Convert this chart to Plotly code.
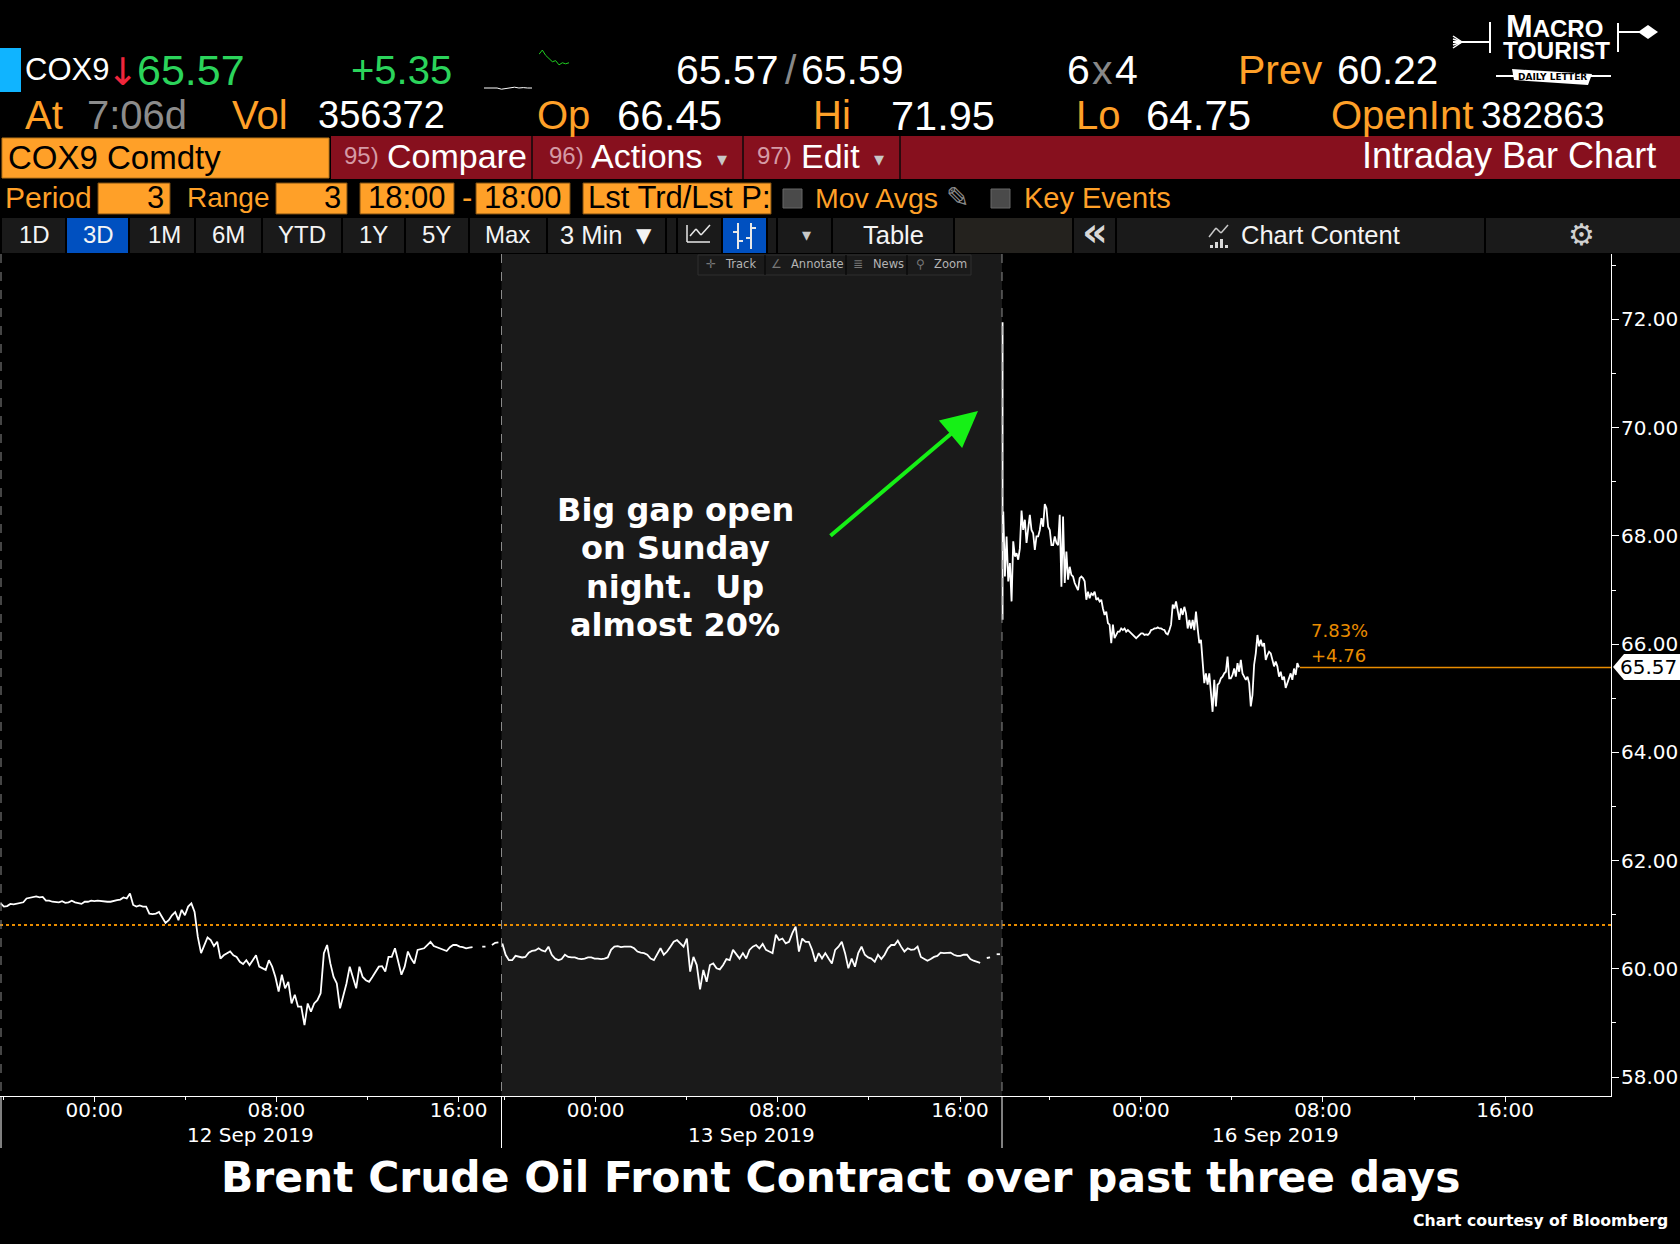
import plotly.graph_objects as go

W, H = 1680, 1244
PLOT_L, PLOT_R, PLOT_T, PLOT_B = 0, 1611, 254, 1096

# ---- data (prices) ----
day1_prices = [61.21,61.15,61.16,61.20,61.19,61.20,61.21,61.23,61.30,61.31,61.33,61.34,61.32,61.33,61.26,61.26,
 61.24,61.24,61.23,61.25,61.22,61.23,61.26,61.23,61.21,61.20,61.24,61.24,61.26,61.25,61.26,61.25,61.24,61.24,61.24,
 61.26,61.27,61.28,61.32,61.30,61.39,61.18,61.15,61.17,61.15,61.15,61.02,61.01,61.02,61.05,60.96,60.85,60.90,60.99,
 61.05,60.90,61.09,60.99,61.15,61.21,61.05,60.59,60.29,60.44,60.58,60.53,60.42,60.50,60.19,60.25,60.29,60.32,60.25,
 60.22,60.13,60.09,60.16,60.07,60.16,60.25,60.04,60.01,59.98,60.16,60.04,59.85,59.58,59.89,59.64,59.76,59.36,59.52,
 59.30,59.30,58.96,59.36,59.21,59.36,59.42,59.55,60.29,60.44,60.10,59.85,59.73,59.27,59.52,59.73,60.04,59.85,59.64,
 60.04,59.85,59.79,59.76,59.85,59.95,60.04,60.05,59.95,60.22,60.22,60.38,60.16,59.89,60.04,60.32,60.19,60.10,60.35,
 60.36,60.38,60.44,60.50,60.42,60.40,60.38,60.35,60.33,60.40,60.44,60.44,60.41,60.40,60.38,60.39,60.40,None,None,
 60.41,60.41,None,60.44,60.48,60.49]
day2_prices = [60.47,60.26,60.16,60.16,60.24,60.22,60.21,60.22,60.30,60.33,60.34,60.38,60.34,60.32,60.41,60.26,60.19,
 60.16,60.18,60.26,60.22,60.21,60.21,60.19,60.18,60.19,60.21,60.21,60.19,60.19,60.18,60.19,60.21,60.35,60.41,60.42,
 60.40,60.41,60.41,60.41,60.38,60.32,60.30,60.29,60.26,60.19,60.16,60.26,60.38,60.26,60.32,60.41,60.50,60.53,60.47,
 60.41,60.56,59.95,60.22,60.07,59.62,59.98,59.76,60.07,60.10,60.01,59.99,60.07,60.18,60.16,60.35,60.26,60.19,60.29,
 60.19,60.35,60.41,60.44,60.38,60.46,60.35,60.32,60.29,60.63,60.53,60.56,60.47,60.50,60.66,60.78,60.32,60.56,60.50,
 60.50,60.35,60.13,60.29,60.19,60.29,60.19,60.10,60.35,60.41,60.50,60.29,60.01,60.19,60.04,60.29,60.41,60.26,60.21,
 60.19,60.13,60.26,60.18,60.26,60.38,60.44,60.44,60.52,60.41,60.32,60.38,60.35,60.36,60.41,60.22,60.19,60.15,60.18,
 60.22,60.24,60.30,60.29,60.30,60.30,60.26,60.24,60.24,60.26,60.26,60.18,60.15,60.13,60.11,None,60.20,60.21,None,
 60.27,60.27]
opening_bar = [66.45, 71.95]
day3_prices = [68.45,67.25,67.99,67.16,67.50,66.79,67.90,67.62,67.68,67.56,67.77,68.47,68.11,68.30,67.87,68.17,68.39,
 68.11,68.05,67.74,67.99,67.99,68.11,68.33,68.17,68.59,68.51,68.17,68.11,67.83,67.83,67.99,67.87,67.83,68.39,67.06,
 68.36,67.13,67.71,67.19,67.43,67.28,67.25,67.13,67.06,67.00,67.22,67.25,67.22,67.16,66.82,66.97,66.85,66.94,66.91,
 66.97,66.82,66.85,66.79,66.82,66.66,66.54,66.60,66.39,66.36,66.02,66.36,66.11,66.17,66.23,66.23,66.29,66.26,66.29,
 66.23,66.26,66.23,66.20,66.17,66.13,66.11,66.14,66.17,66.20,66.20,66.17,66.18,66.17,66.20,66.26,66.27,66.29,66.29,
 66.31,66.29,66.29,66.27,66.26,66.20,66.18,66.26,66.36,66.73,66.66,66.79,66.63,66.45,66.66,66.54,66.69,66.57,66.29,
 66.45,66.29,66.45,66.26,66.60,66.29,66.02,66.08,65.68,65.28,65.46,65.25,65.46,65.09,64.75,65.34,64.85,65.25,65.28,
 65.37,65.40,65.46,65.49,65.77,65.37,65.37,65.43,65.55,65.40,65.65,65.49,65.71,65.46,65.40,65.34,65.40,65.28,64.85,
 65.06,65.62,65.83,66.17,65.96,66.08,65.96,66.02,65.71,65.80,65.86,65.83,65.71,65.59,65.68,65.59,65.40,65.49,65.34,
 65.40,65.19,65.28,65.40,65.46,65.34,65.55,65.43,65.65,65.57]
last_price = 65.57
prev_close = 60.81
y_ticks = [58, 60, 62, 64, 66, 68, 70, 72]
y_minor = [59, 61, 63, 65, 67, 69, 71, 73]
x_ticks = [4.14, 12.14, 20.14, 26.16, 34.16, 42.16, 50.1, 58.1, 66.1]
x_labels = ["00:00", "08:00", "16:00"] * 3
x_minor = [0.14, 8.14, 16.14, 22.16, 30.16, 38.16, 46.1, 54.1, 62.1]
day_labels = ["12 Sep 2019", "13 Sep 2019", "16 Sep 2019"]
DAY_START = [0.0, 22.03, 44.03]
DAY_HOURS = [22.0, 22.0, 13.06]
X_MAX, Y_MIN, Y_MAX = 70.75, 57.65, 73.21
spark_white = [1.0, 1.0, 0.9, 1.0, 0.7, 0.9, 1.0, 1.2, 1.0, 1.1, 1.0, 1.0]
spark_green = [3.6, 4.0, 3.5, 3.2, 2.9, 3.0, 2.6, 2.8, 2.7, 2.8]

ORANGE, RED_BAR, DARK = "#FFA028", "#87101E", "#1A1A1A"
LINE_OR = "#E98C00"
UI = "Liberation Sans"
AXF = "DejaVu Sans"

fx = lambda x: x / W
fy = lambda y: 1 - y / H

shapes, notes = [], []

def rect(x0, y0, x1, y1, fill, line=None, layer="above"):
    shapes.append(dict(type="rect", xref="paper", yref="paper", x0=fx(x0), x1=fx(x1), y0=fy(y0), y1=fy(y1),
                       fillcolor=fill, line=dict(color=line or fill, width=1 if line else 0), layer=layer))

def seg(x0, y0, x1, y1, color, width=1, dash="solid", layer="above"):
    shapes.append(dict(type="line", xref="paper", yref="paper", x0=fx(x0), x1=fx(x1), y0=fy(y0), y1=fy(y1),
                       line=dict(color=color, width=width, dash=dash), layer=layer))

def poly(pts, fill, line=None, width=0):
    d = "M " + " L ".join(f"{fx(a):.5f},{fy(b):.5f}" for a, b in pts) + " Z"
    shapes.append(dict(type="path", xref="paper", yref="paper", path=d, fillcolor=fill,
                       line=dict(color=line or fill, width=width)))

def T(text, x, y, size, color="white", anchor="left", font=UI, bold=False):
    notes.append(dict(text=f"<b>{text}</b>" if bold else text, xref="paper", yref="paper", x=fx(x), y=fy(y),
                      xanchor=anchor, yanchor="middle", showarrow=False, borderpad=0,
                      font=dict(family=font, size=size, color=color)))

# day shading and separators
rect(501.5, PLOT_T, 1002, PLOT_B, DARK, layer="below")
for sx in (1, 501.5, 1002):
    seg(sx, PLOT_T, sx, PLOT_B, "#8A8A8A", 1, "dash")
    seg(sx, PLOT_B, sx, 1148, "white", 1)

# header row 1 and 2
rect(0, 48, 21, 92, "#10B4FF")
R1, R2 = 70, 115
for txt, x, c, s in [("COX9", 24, "white", 31), ("65.57", 136, "#2BD45B", 43), ("+5.35", 350, "#2BD45B", 40),
                     ("65.57", 675, "white", 41), ("/", 784, "#888888", 41), ("65.59", 800, "white", 41),
                     ("6", 1066, "white", 41), ("x", 1091, "#888888", 41), ("4", 1114, "white", 41),
                     ("Prev", 1237, ORANGE, 41), ("60.22", 1336, "white", 40.5)]:
    T(txt, x, R1, s, c)
T("↓", 123, R1 + 2, 38, "#F0263C", "center", AXF)
for txt, x, c, s in [("At", 24, ORANGE, 40), ("7:06d", 86, "#8C8C8C", 40), ("Vol", 231, ORANGE, 40), ("356372", 317, "white", 38),
                     ("Op", 536, ORANGE, 40), ("66.45", 616, "white", 42), ("Hi", 812, ORANGE, 40), ("71.95", 890, "white", 41.5),
                     ("Lo", 1075, ORANGE, 40), ("64.75", 1145, "white", 42), ("OpenInt", 1330, ORANGE, 40), ("382863", 1480, "white", 37)]:
    T(txt, x, R2, s, c)

# row 3
rect(331, 136, W, 179, RED_BAR)
rect(2, 138, 329, 178, ORANGE, "#B87518")
for sx in (532, 743, 900):
    seg(sx, 136, sx, 179, "#2A0A0E", 2)
R3 = 158
T("COX9 Comdty", 7, R3, 33, "black")
for txt, x in [("95)", 343), ("96)", 548), ("97)", 756)]:
    T(txt, x, R3 - 2, 24, "#D59AA5")
for txt, x in [("Compare", 386), ("Actions", 590), ("Edit", 800)]:
    T(txt, x, R3 - 2, 34, "white")
for x in (722, 879):
    T("▾", x, R3 + 1, 20, "#C8C8C8", "center", AXF)
T("Intraday Bar Chart", 1657, R3 - 2, 36, "white", "right")

# row 4
R4 = 198
T("Period", 4, R4, 30, ORANGE)
T("Range", 186, R4, 28, ORANGE)
for a, b in [(98, 170), (276, 347), (360, 454), (476, 570), (583, 771)]:
    rect(a, 183, b, 214, ORANGE, "#7A4C10")
T("3", 165, R4, 31, "black", "right")
T("3", 342, R4, 31, "black", "right")
T("18:00", 407, R4, 31, "black", "center")
T("18:00", 523, R4, 31, "black", "center")
T("-", 461, R4, 31, ORANGE)
T("Lst Trd/Lst P:", 587, R4, 31, "black")
rect(783, 189, 802, 208, "#4A4A4A", "#666666")
rect(991, 189, 1010, 208, "#4A4A4A", "#666666")
T("Mov Avgs", 814, R4, 28.5, ORANGE)
T("✎", 957, R4, 28, "#8A8A8A", "center", AXF)
T("Key Events", 1023, R4, 29, ORANGE)

# toolbar
rect(0, 218, W, 253, DARK)
rect(66, 218, 129, 253, "#0050C0")
rect(722, 218, 767, 253, "#0050C0")
rect(954, 218, 1073, 253, "#24221E")
for sx in (1, 66, 129, 195, 262, 342, 405, 469, 547, 666, 677, 722, 767, 777, 832, 954, 1073, 1116, 1485):
    seg(sx, 218, sx, 253, "#000000", 2)
R5 = 235
for txt, x in [("1D", 34), ("3D", 98), ("1M", 164), ("6M", 229), ("YTD", 302), ("1Y", 373), ("5Y", 436), ("Max", 508)]:
    T(txt, x, R5, 24, "#F4F4F4", "center")
for txt, x in [("3 Min", 591), ("Table", 893), ("Chart Content", 1320)]:
    T(txt, x, R5, 25.5, "#F4F4F4", "center")
T("▼", 644, R5, 20, "#F4F4F4", "center", AXF)
T("▾", 806, R5, 18, "#C8C8C8", "center", AXF)
T("«", 1095, R5 - 3, 40, "#D8D8D8", "center", AXF, True)
T("⚙", 1581, R5, 30, "#D0D0D0", "center", AXF, True)
for a, b, c, d in [(687, 242, 710, 242), (687, 242, 687, 225), (690, 236, 696, 229), (696, 229, 701, 235), (701, 235, 710, 225)]:
    seg(a, b, c, d, "#E8E8E8", 1.5)
for sx in (738, 751):
    seg(sx, 223, sx, 249, "#E8E8E8", 2)
seg(733, 232, 738, 232, "#E8E8E8", 2)
seg(738, 241, 743, 241, "#E8E8E8", 2)
seg(746, 238, 751, 238, "#E8E8E8", 2)
seg(751, 228, 756, 228, "#E8E8E8", 2)
for a, b in [(1210, 1), (1215, 2), (1220, 3), (1225, 1)]:
    rect(a, 248 - b * 3, a + 3, 248, "#D8D8D8")
seg(1209, 237, 1216, 228, "#C8C8C8", 1.5)
seg(1216, 228, 1221, 233, "#C8C8C8", 1.5)
seg(1221, 233, 1228, 225, "#C8C8C8", 1.5)

# track / annotate strip
rect(698, 255, 971, 275, DARK, "#2E2E2E")
for sx in (765, 846, 907):
    seg(sx, 255, sx, 275, "#000000", 1)
for txt, x in [("Track", 724), ("Annotate", 790), ("News", 872), ("Zoom", 933)]:
    T(txt, x, 264, 11.5, "#B4B4B4", font=AXF)
for txt, x in [("✛", 711), ("∠", 776), ("≣", 858), ("⚲", 920)]:
    T(txt, x, 264, 12, "#777777", "center", AXF)

# logo
T("M<span style='font-size:24px'>ACRO</span>", 1505, 26, 32, "white", bold=True)
T("TOURIST", 1502, 50, 24.5, "white", bold=True)
seg(1496, 76, 1611, 76, "white", 2)
poly([(1512, 69), (1592, 74), (1588, 85), (1514, 80)], "white")
T("DAILY LETTER", 1552, 77, 9, "black", "center", AXF, True)
seg(1490, 42, 1453, 42, "white", 2)
seg(1490, 22, 1490, 53, "white", 2)
for dy in (-6, -3, 3, 6):
    seg(1453, 42 + dy, 1462, 42, "white", 1.5)
seg(1618, 23, 1618, 52, "white", 2)
seg(1618, 32, 1640, 32, "white", 2)
poly([(1638, 32), (1648, 25), (1658, 32), (1648, 39)], "white")

# price flag
poly([(1613, 667), (1624, 654), (1680, 654), (1680, 680), (1624, 680)], "white")
T("65.57", 1678, 667, 20, "black", "right", AXF)

# axis labels / title / commentary
for lab, x in zip(day_labels, (250, 751, 1275)):
    T(lab, x, 1135, 20, "white", "center", AXF)
for i, line in enumerate(["Big gap open", "on Sunday", "night.&nbsp;&nbsp;Up", "almost 20%"]):
    T(line, 675, 510 + i * 38.3, 32, "white", "center", AXF, True)
T("Brent Crude Oil Front Contract over past three days", 840, 1177, 42.4, "white", "center", AXF, True)
T("Chart courtesy of Bloomberg", 1669, 1220, 15.7, "white", "right", AXF, True)
T("7.83%", 1310, 630, 18, LINE_OR, font=AXF)
T("+4.76", 1310, 656, 18, LINE_OR, font=AXF)

notes.append(dict(text="", xref="paper", yref="paper", axref="pixel", ayref="pixel", x=fx(978), y=fy(411),
                  ax=829 - 978, ay=537 - 411, showarrow=True, arrowhead=2, arrowsize=1.8, arrowwidth=4, arrowcolor="#16F016"))

# ---- traces ----
fig = go.Figure()
line_style = dict(color="white", width=1.8)
for prices, start, hours in zip((day1_prices, day2_prices, day3_prices), DAY_START, DAY_HOURS):
    step = hours / len(prices)
    fig.add_trace(go.Scatter(x=[start + 0.03 + i * step for i in range(len(prices))], y=prices, mode="lines",
                             line=line_style, connectgaps=False, hoverinfo="skip"))
fig.add_trace(go.Scatter(x=[DAY_START[2], DAY_START[2]], y=opening_bar, mode="lines", line=line_style))
fig.add_trace(go.Scatter(x=[0, X_MAX], y=[prev_close, prev_close], mode="lines",
                         line=dict(color=LINE_OR, width=2, dash="dot")))
fig.add_trace(go.Scatter(x=[DAY_START[2] + DAY_HOURS[2], X_MAX], y=[last_price, last_price], mode="lines",
                         line=dict(color=LINE_OR, width=1.5)))
fig.add_trace(go.Scatter(x=list(range(len(spark_white))), y=spark_white, xaxis="x2", yaxis="y2", mode="lines",
                         line=dict(color="white", width=1)))
fig.add_trace(go.Scatter(x=list(range(len(spark_green))), y=spark_green, xaxis="x3", yaxis="y3", mode="lines",
                         line=dict(color="#1FD020", width=1)))

hidden = dict(visible=False, fixedrange=True)
fig.update_layout(
    width=W, height=H, autosize=False, showlegend=False,
    margin=dict(l=0, r=0, t=0, b=0, pad=0),
    paper_bgcolor="black", plot_bgcolor="rgba(0,0,0,0)",
    shapes=shapes, annotations=notes,
    font=dict(family=AXF, size=20, color="white"),
    xaxis=dict(domain=[PLOT_L / W, PLOT_R / W], range=[0, X_MAX], tickmode="array", tickvals=x_ticks, ticktext=x_labels,
               ticks="outside", ticklen=5, tickcolor="white", showline=True, linecolor="white", linewidth=1,
               showgrid=False, zeroline=False, tickfont=dict(family=AXF, size=20, color="white"),
               ticklabelstandoff=-9,
               minor=dict(tickmode="array", tickvals=x_minor, ticks="outside", ticklen=3, tickcolor="white"),
               anchor="y", automargin=False),
    yaxis=dict(domain=[1 - PLOT_B / H, 1 - PLOT_T / H], range=[Y_MIN, Y_MAX], side="right", tickmode="array",
               tickvals=y_ticks, ticktext=[f"{v:.2f}" for v in y_ticks], ticks="outside", ticklen=7, tickcolor="white",
               showline=True, linecolor="white", linewidth=1, showgrid=False, zeroline=False,
               tickfont=dict(family=AXF, size=20, color="white"), ticklabelstandoff=-2,
               minor=dict(tickmode="array", tickvals=y_minor, ticks="outside", ticklen=4, tickcolor="white"),
               anchor="x", automargin=False),
    xaxis2=dict(domain=[484 / W, 532 / W], anchor="y2", range=[0, 11], **hidden),
    yaxis2=dict(domain=[1 - 92 / H, 1 - 84 / H], anchor="x2", range=[0, 2], **hidden),
    xaxis3=dict(domain=[539 / W, 569 / W], anchor="y3", range=[0, 9], **hidden),
    yaxis3=dict(domain=[1 - 67 / H, 1 - 49 / H], anchor="x3", range=[2.4, 4.1], **hidden),
)
fig.write_html("out.html", config={"displayModeBar": False},
               post_script="document.body.style.margin='0';document.body.style.background='black';")
